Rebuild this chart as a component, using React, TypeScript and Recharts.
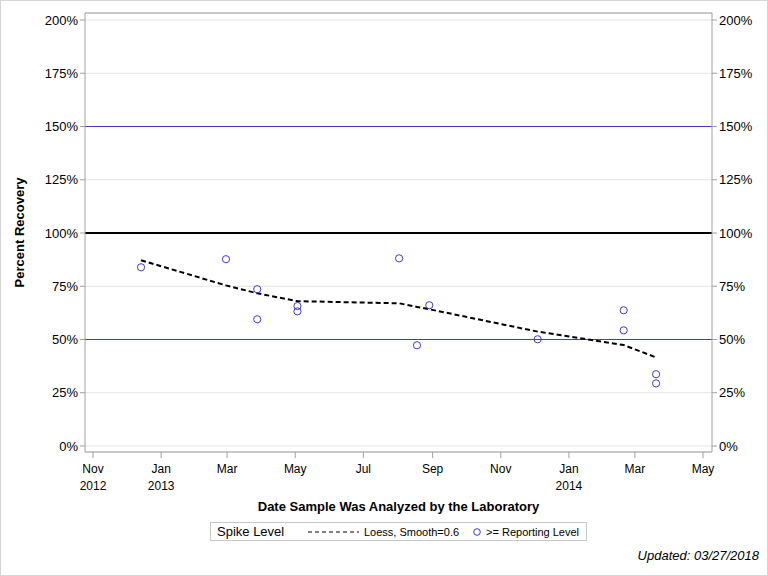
import React from 'react';
import {
  ComposedChart, Scatter, Line, XAxis, YAxis, CartesianGrid, ReferenceLine,
} from 'recharts';

// sample points (>= reporting level)
const sampleDates = [
  '2012-12-14', '2013-02-28', '2013-03-28', '2013-03-28', '2013-05-03', '2013-05-03', '2013-08-02',
  '2013-08-18', '2013-08-29', '2013-12-04', '2014-02-19', '2014-02-19', '2014-03-20', '2014-03-20',
];
const recovery = [83.9, 87.7, 73.6, 59.5, 65.7, 63.2, 88.1, 47.3, 66.1, 50.1, 63.7, 54.3, 33.7, 29.4];

// loess fit, smooth=0.6
const loessDates = [
  '2012-12-14', '2013-02-28', '2013-03-28', '2013-05-03', '2013-08-02',
  '2013-08-18', '2013-08-29', '2013-12-04', '2014-02-19', '2014-03-20',
];
const loessValues = [87.2, 75.4, 71.7, 68.0, 67.0, 65.3, 64.2, 53.7, 47.4, 41.6];

// axes
const xTickDates = [
  '2012-11-01', '2013-01-01', '2013-03-01', '2013-05-01', '2013-07-01',
  '2013-09-01', '2013-11-01', '2014-01-01', '2014-03-01', '2014-05-01',
];
const xTickMonths = ['Nov', 'Jan', 'Mar', 'May', 'Jul', 'Sep', 'Nov', 'Jan', 'Mar', 'May'];
const xTickYears = ['2012', '2013', '', '', '', '', '', '2014', '', ''];
const yTicks = [0, 25, 50, 75, 100, 125, 150, 175, 200];

const DAY = 86400000;
const ts = (d: string) => Date.parse(d + 'T00:00:00Z');

const scatterData = sampleDates.map((d, i) => ({ t: ts(d), v: recovery[i] }));
const loessData = loessDates.map((d, i) => ({ t: ts(d), v: loessValues[i] }));
const xTicks = xTickDates.map(ts);

const xDomain = [ts('2012-11-01') - 7.16 * DAY, ts('2014-05-01') + 8.06 * DAY];
const yDomain = [-2.82, 203.29];

const FONT = '"Liberation Sans", Arial, sans-serif';
const FRAME = '#a0a0a0';
const LIMIT = '#3c3cc8';

function MonthTick(props: any) {
  const { x, y, payload } = props;
  const i = xTicks.indexOf(payload.value);
  return (
    <g>
      <text x={x} y={y + 13} textAnchor="middle" fontSize={12} fontFamily={FONT} fill="#000">{xTickMonths[i]}</text>
      {xTickYears[i] && (
        <text x={x} y={y + 30} textAnchor="middle" fontSize={12} fontFamily={FONT} fill="#000">{xTickYears[i]}</text>
      )}
    </g>
  );
}

function OpenCircle(props: any) {
  const { cx, cy } = props;
  return <circle cx={cx} cy={cy} r={3.6} fill="none" stroke="#3b3bd0" strokeWidth={1} />;
}

export default function App() {
  return (
    <div style={{ position: 'absolute', left: 0, top: 0, width: 768, height: 576, boxSizing: 'border-box', border: '1px solid #d4d4d4', background: '#fff', fontFamily: FONT }}>
      <div style={{ position: 'absolute', left: -1, top: -1 }}>
        <ComposedChart width={768} height={576} margin={{ top: 13, right: 0, bottom: 0, left: 0 }}>
          <CartesianGrid vertical={false} stroke="#e4e4e4" yAxisId="left" />
          <XAxis
            dataKey="t"
            type="number"
            domain={xDomain}
            allowDataOverflow
            ticks={xTicks}
            interval={0}
            tick={<MonthTick />}
            height={124}
            stroke={FRAME}
            tickSize={6}
            label={{ value: 'Date Sample Was Analyzed by the Laboratory', position: 'insideTop', offset: 50, fontSize: 13, fontWeight: 'bold', fill: '#000', fontFamily: FONT }}
          />
          <YAxis
            yAxisId="left"
            type="number"
            domain={yDomain}
            allowDataOverflow
            ticks={yTicks}
            interval={0}
            width={85}
            stroke={FRAME}
            tickSize={5}
            tickFormatter={(v: number) => `${v}%`}
            tick={{ fontSize: 13, fill: '#000', fontFamily: FONT }}
            label={{ value: 'Percent Recovery', angle: -90, position: 'insideLeft', offset: 19, fontSize: 13, fontWeight: 'bold', fill: '#000', fontFamily: FONT, style: { textAnchor: 'middle' } }}
          />
          <YAxis
            yAxisId="right"
            orientation="right"
            type="number"
            domain={yDomain}
            allowDataOverflow
            ticks={yTicks}
            interval={0}
            width={56}
            stroke={FRAME}
            tickSize={5}
            tickFormatter={(v: number) => `${v}%`}
            tick={{ fontSize: 13, fill: '#000', fontFamily: FONT, textAnchor: 'start' }}
          />
          <ReferenceLine yAxisId="left" y={yDomain[1]} stroke={FRAME} />
          <ReferenceLine yAxisId="left" y={150} stroke={LIMIT} strokeWidth={1} />
          <ReferenceLine yAxisId="left" y={50} stroke={LIMIT} strokeWidth={1} />
          <ReferenceLine yAxisId="left" y={100} stroke="#000" strokeWidth={2} />
          <Line
            yAxisId="left"
            data={loessData}
            dataKey="v"
            type="linear"
            stroke="#000"
            strokeWidth={2}
            strokeDasharray="5 3"
            dot={false}
            activeDot={false}
            isAnimationActive={false}
          />
          <Scatter
            yAxisId="left"
            data={scatterData}
            dataKey="v"
            shape={<OpenCircle />}
            isAnimationActive={false}
          />
        </ComposedChart>
      </div>
      <div style={{ position: 'absolute', left: 209, top: 521, width: 377, height: 19, boxSizing: 'border-box', border: '1px solid #c8c8c8', display: 'flex', alignItems: 'center', fontSize: 11, color: '#000', whiteSpace: 'nowrap' }}>
        <span style={{ fontSize: 13, marginLeft: 6, width: 90 }}>Spike Level</span>
        <svg width={54} height={10}>
          <line x1={1} y1={5} x2={52} y2={5} stroke="#000" strokeWidth={1} strokeDasharray="4 3" />
        </svg>
        <span style={{ marginLeft: 3 }}>Loess, Smooth=0.6</span>
        <svg width={12} height={10} style={{ marginLeft: 12 }}>
          <circle cx={6} cy={5} r={3.3} fill="none" stroke="#3b3bd0" strokeWidth={1} />
        </svg>
        <span style={{ marginLeft: 3 }}>&gt;= Reporting Level</span>
      </div>
      <div style={{ position: 'absolute', right: 8, top: 547, fontSize: 13, fontStyle: 'italic', color: '#000' }}>
        Updated: 03/27/2018
      </div>
    </div>
  );
}
